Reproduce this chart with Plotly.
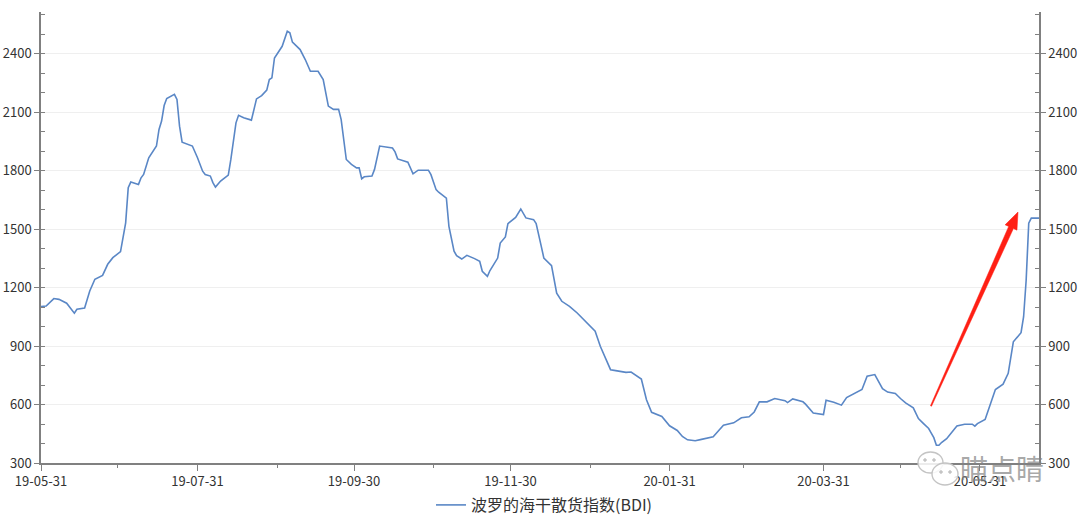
import pandas as pd
import plotly.graph_objects as go

# days after 2019-05-31 and BDI values
start_date = "2019-05-31"
day_offset = [0, 2, 5, 7, 10, 13, 14, 17, 19, 21, 24, 26, 28, 31, 33, 34, 35, 38, 39, 40,
              42, 45, 46, 47, 48, 49, 52, 53, 54, 55, 59, 60, 61, 63, 64, 66, 67, 68, 70, 73,
              74, 76, 77, 79, 82, 84, 86, 88, 89, 90, 91, 94, 95, 96, 97, 98, 101, 103, 105, 108,
              110, 112, 114, 116, 117, 119, 121, 123, 124, 125, 126, 129, 130, 132, 137, 138, 139, 143, 145, 147,
              151, 152, 154, 155, 158, 159, 161, 162, 164, 166, 169, 171, 172, 174, 175, 178, 179, 181, 182, 185,
              187, 189, 192, 193, 195, 196, 199, 200, 201, 203, 206, 209, 213, 216, 218, 220, 222, 224, 228, 230,
              232, 234, 236, 238, 242, 245, 248, 250, 252, 255, 257, 262, 264, 266, 270, 273, 276, 278, 280, 283,
              286, 290, 291, 293, 297, 298, 301, 305, 306, 309, 312, 314, 320, 322, 325, 328, 330, 333, 335, 337,
              340, 342, 344, 346, 347, 348, 349, 350, 351, 353, 357, 360, 363, 364, 365, 368, 372, 375, 377, 379,
              382, 383, 384, 385, 386, 389]
bdi = [1103, 1106, 1144, 1140, 1120, 1069, 1089, 1096, 1183, 1243, 1263, 1320, 1354, 1385, 1533, 1713, 1742, 1730, 1764, 1781,
       1867, 1927, 2012, 2055, 2135, 2171, 2192, 2166, 2029, 1947, 1927, 1901, 1867, 1798, 1781, 1773, 1739, 1716, 1747, 1778,
       1858, 2046, 2085, 2072, 2060, 2169, 2186, 2214, 2268, 2277, 2379, 2439, 2482, 2516, 2508, 2460, 2422, 2371, 2311, 2311,
       2268, 2132, 2115, 2115, 2063, 1858, 1833, 1815, 1815, 1759, 1769, 1773, 1807, 1927, 1917, 1897, 1861, 1844, 1784, 1803,
       1803, 1780, 1703, 1690, 1660, 1515, 1387, 1364, 1347, 1366, 1349, 1335, 1284, 1258, 1288, 1352, 1429, 1460, 1529, 1561,
       1604, 1558, 1549, 1529, 1412, 1352, 1313, 1250, 1172, 1130, 1104, 1070, 1018, 976, 899, 839, 779, 774, 765, 767,
       748, 731, 625, 560, 539, 491, 467, 436, 419, 414, 420, 434, 464, 494, 506, 532, 537, 562, 614, 614,
       631, 620, 610, 629, 614, 602, 557, 549, 622, 612, 597, 636, 677, 746, 754, 682, 664, 657, 631, 609,
       583, 528, 502, 477, 453, 430, 391, 391, 405, 425, 490, 499, 499, 489, 502, 523, 677, 705, 760, 922,
       969, 1051, 1239, 1531, 1557, 1557]

x_tick_dates = ["2019-05-31", "2019-07-31", "2019-09-30", "2019-11-30", "2020-01-31", "2020-03-31", "2020-05-31"]
x_tick_text = ["19-05-31", "19-07-31", "19-09-30", "19-11-30", "20-01-31", "20-03-31", "20-05-31"]
x_minor_dates = ["2019-06-30", "2019-08-31", "2019-10-31", "2019-12-31", "2020-02-29", "2020-04-30"]
x_range = ["2019-05-31", "2020-06-23"]
y_ticks = [300, 600, 900, 1200, 1500, 1800, 2100, 2400]
y_range = [300, 2615]
series_name = "波罗的海干散货指数(BDI)"

dates = pd.Timestamp(start_date) + pd.to_timedelta(day_offset, unit="D")

FONT = "Noto Sans CJK SC, Noto Sans, sans-serif"
AXC = "#808080"
LINEC = "#5a87c6"
W, H = 1080, 517
ML, MR, MT, MB = 41, 41, 12, 54
PW, PH = W - ML - MR, H - MT - MB


def px(xp):
    return (xp - ML) / PW


def py(yp):
    return (H - MB - yp) / PH


fig = go.Figure()
fig.add_trace(go.Scatter(x=dates, y=bdi, mode="lines", name=series_name,
                         line=dict(color=LINEC, width=1.6)))
fig.add_trace(go.Scatter(x=dates, y=bdi, mode="lines", yaxis="y2", showlegend=False,
                         line=dict(color="rgba(0,0,0,0)", width=0), hoverinfo="skip"))

yaxis_common = dict(range=y_range, tickvals=y_ticks, ticks="outside", ticklen=5, tickwidth=1.3,
                    tickcolor=AXC, showline=True, linecolor=AXC, linewidth=1.5,
                    tickfont=dict(family=FONT, size=13, color="#333333"),
                    minor=dict(dtick=100, tick0=300, ticks="inside", ticklen=4, tickcolor=AXC,
                               tickwidth=1, showgrid=False),
                    zeroline=False, automargin=False)

fig.update_layout(
    width=W, height=H,
    margin=dict(l=ML, r=MR, t=MT, b=MB, autoexpand=False),
    paper_bgcolor="white", plot_bgcolor="white",
    font=dict(family=FONT, size=13, color="#333333"),
    xaxis=dict(type="date", range=x_range, tickvals=x_tick_dates, ticktext=x_tick_text,
               ticks="outside", ticklen=6, tickwidth=1.3, tickcolor=AXC,
               showline=True, linecolor=AXC, linewidth=1.5, showgrid=False, zeroline=False,
               automargin=False,
               tickfont=dict(family=FONT, size=13, color="#333333"),
               minor=dict(tickvals=x_minor_dates, ticks="outside", ticklen=3, tickcolor=AXC,
                          tickwidth=1, showgrid=False)),
    yaxis=dict(side="left", showgrid=True, gridcolor="#efefef", gridwidth=1, **yaxis_common),
    yaxis2=dict(side="right", overlaying="y", showgrid=False, **yaxis_common),
    showlegend=True,
    legend=dict(orientation="h", x=px(431), xanchor="left", y=py(505), yanchor="middle",
                itemwidth=30, font=dict(family=FONT, size=16, color="#333333"),
                bgcolor="rgba(0,0,0,0)", borderwidth=0),
)

# tapered red arrow (annotation mark)
T = (931.0, 406.0)
Hd = (1018.0, 212.0)
L = ((Hd[0] - T[0]) ** 2 + (Hd[1] - T[1]) ** 2) ** 0.5
ux, uy = (Hd[0] - T[0]) / L, (Hd[1] - T[1]) / L
nx, ny = -uy, ux
Bx, By = Hd[0] - 17 * ux, Hd[1] - 17 * uy
pts = [(T[0] + 0.6 * nx, T[1] + 0.6 * ny), (Bx + 2.6 * nx, By + 2.6 * ny), (Bx + 6.5 * nx, By + 6.5 * ny),
       Hd, (Bx - 6.5 * nx, By - 6.5 * ny), (Bx - 2.6 * nx, By - 2.6 * ny), (T[0] - 0.6 * nx, T[1] - 0.6 * ny)]
path = "M " + " L ".join(f"{px(a):.5f},{py(b):.5f}" for a, b in pts) + " Z"
fig.add_shape(type="path", xref="paper", yref="paper", path=path,
              fillcolor="#ff1f14", line=dict(color="#ff1f14", width=0.5))

# watermark (WeChat-style bubbles + text)
for (x0, y0, x1, y1) in [(918, 452, 943, 473), (932, 463, 958, 485)]:
    fig.add_shape(type="circle", xref="paper", yref="paper",
                  x0=px(x0), x1=px(x1), y0=py(y1), y1=py(y0),
                  line=dict(color="#c4c4c4", width=1.4), fillcolor="rgba(255,255,255,0.85)")
for (cx, cy) in [(925, 460), (934, 460), (941, 472), (950, 472)]:
    fig.add_shape(type="circle", xref="paper", yref="paper",
                  x0=px(cx - 1.3), x1=px(cx + 1.3), y0=py(cy + 1.3), y1=py(cy - 1.3),
                  line=dict(color="#c4c4c4", width=1), fillcolor="#c4c4c4")
fig.add_annotation(x=px(1002), y=py(468), xref="paper", yref="paper", xanchor="center", yanchor="middle",
                   text="瞄点睛", showarrow=False,
                   font=dict(family=FONT, size=28, color="rgba(130,130,130,0.7)"))

fig.write_html("out.html", config={"displayModeBar": False},
               post_script="document.body.style.margin='0';")
